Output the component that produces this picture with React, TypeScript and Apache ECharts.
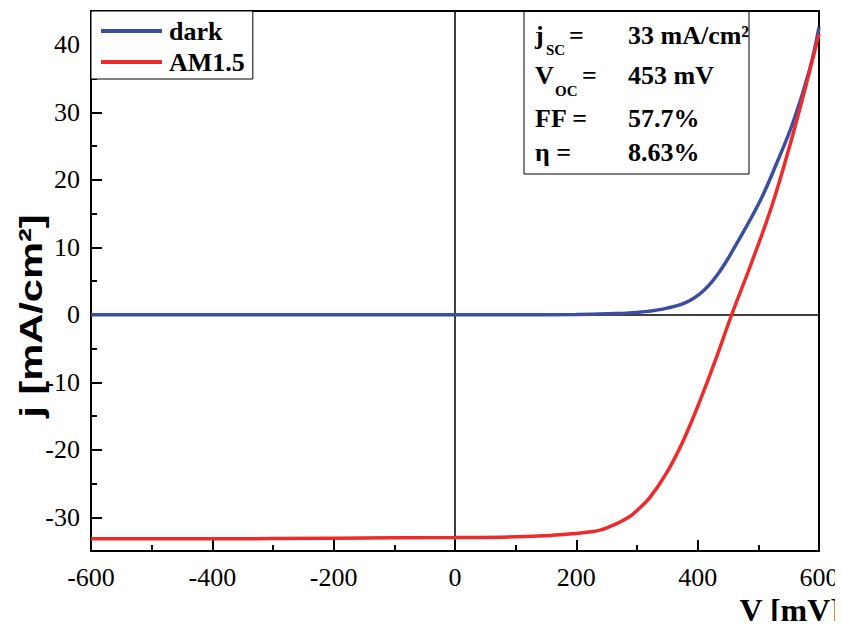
import React, { useEffect, useRef } from "react";
import * as echarts from "echarts";

// ---- data ----
const V_DARK = [-600, -400, -200, 0, 100, 200, 250, 300, 340, 380, 410, 437, 464, 503, 530, 558, 585, 600];
const J_DARK = [0, 0, 0, 0, 0, 0.05, 0.15, 0.35, 0.8, 1.8, 3.6, 6.5, 10.5, 16.9, 22.4, 28.7, 36.5, 42.6];

const V_AM = [-600, -400, -200, 0, 100, 157, 200, 220, 239, 255, 270, 288, 300, 321, 349, 376, 404, 431, 456, 490, 525, 563, 600];
const J_AM = [-33.2, -33.2, -33.1, -33.0, -32.9, -32.7, -32.4, -32.2, -31.9, -31.4, -30.8, -29.9, -29.0, -27.1, -23.4, -18.7, -12.7, -6.3, 0, 8, 16.9, 28.7, 41.6];

const SERIES_NAMES = ["dark", "AM1.5"];
const X_MIN = -600;
const X_MAX = 600;
const X_STEP = 200;
const Y_MIN = -35;
const Y_MAX = 45;
const Y_MAJOR = 10;
const Y_MINOR = 5;

const INFO_VALUES = ["33 mA/cm²", "453 mV", "57.7%", "8.63%"];

const X_TITLE = "V [mV]";
const Y_TITLE = "j [mA/cm²]";

const SERIF = "Liberation Serif";
const SANS = "Liberation Sans";

export default function App() {
  const ref = useRef<HTMLDivElement>(null);

  useEffect(() => {
    if (!ref.current) return;
    const chart = echarts.init(ref.current, undefined, { renderer: "svg" });

    const darkData = V_DARK.map((v, i) => [v, J_DARK[i]]);
    const amData = V_AM.map((v, i) => [v, J_AM[i]]);

    const gTop = 11;
    const gBottom = 78;
    const gH = 629 - gTop - gBottom;
    const pxPerUnit = gH / (Y_MAX - Y_MIN);
    const majMin = Math.ceil(Y_MIN / Y_MAJOR) * Y_MAJOR;
    const majMax = Math.floor(Y_MAX / Y_MAJOR) * Y_MAJOR;

    const txt = (
      text: string,
      x: number,
      y: number,
      size: number,
      extra: any = {}
    ) => ({
      type: "text",
      x,
      y,
      silent: true,
      z: 20,
      style: {
        text,
        fontSize: size,
        fontWeight: "bold",
        fontFamily: SERIF,
        fill: "#000",
        align: "left",
        verticalAlign: "middle",
        ...extra,
      },
    });

    const rowY = [35, 75, 118, 152];

    const option: any = {
      animation: false,
      backgroundColor: "#fff",
      grid: [
        {
          left: 91,
          right: 24,
          top: gTop,
          bottom: gBottom,
          show: true,
          borderColor: "#000",
          borderWidth: 2,
          backgroundColor: "transparent",
        },
        {
          left: 91,
          right: 24,
          top: gTop + (Y_MAX - majMax) * pxPerUnit,
          bottom: gBottom + (majMin - Y_MIN) * pxPerUnit,
          show: false,
        },
      ],
      xAxis: [
        {
          type: "value",
          gridIndex: 0,
          min: X_MIN,
          max: X_MAX,
          interval: X_STEP,
          axisLine: { show: false, onZero: false },
          splitLine: { show: false },
          axisTick: {
            show: true,
            inside: true,
            length: 11,
            lineStyle: { color: "#000", width: 2 },
          },
          minorTick: {
            show: true,
            splitNumber: 2,
            length: 6,
            lineStyle: { color: "#000", width: 2 },
          },
          axisLabel: {
            color: "#000",
            fontFamily: SERIF,
            fontSize: 26,
            margin: 13,
          },
        },
        {
          type: "value",
          gridIndex: 1,
          min: X_MIN,
          max: X_MAX,
          show: false,
          axisLine: { onZero: false },
        },
      ],
      yAxis: [
        {
          type: "value",
          gridIndex: 0,
          min: Y_MIN,
          max: Y_MAX,
          interval: Y_MINOR,
          axisLine: { show: false, onZero: false },
          splitLine: { show: false },
          axisTick: {
            show: true,
            inside: true,
            length: 6,
            lineStyle: { color: "#000", width: 2 },
          },
          axisLabel: {
            color: "#000",
            fontFamily: SERIF,
            fontSize: 26,
            margin: 11,
            formatter: (v: number) => (v % Y_MAJOR === 0 ? String(v) : ""),
          },
        },
        {
          type: "value",
          gridIndex: 1,
          min: majMin,
          max: majMax,
          interval: Y_MAJOR,
          axisLine: { show: false, onZero: false },
          splitLine: { show: false },
          axisLabel: { show: false },
          axisTick: {
            show: true,
            inside: true,
            length: 11,
            lineStyle: { color: "#000", width: 2 },
          },
        },
      ],
      legend: {
        orient: "vertical",
        left: 91,
        top: 11,
        backgroundColor: "#fff",
        borderColor: "#000",
        borderWidth: 1,
        borderRadius: 0,
        padding: [6, 8, 3, 10],
        itemGap: 3,
        itemWidth: 61,
        itemHeight: 4,
        icon: "rect",
        data: SERIES_NAMES,
        textStyle: {
          fontFamily: SERIF,
          fontWeight: "bold",
          fontSize: 26,
          color: "#000",
          lineHeight: 28,
          padding: [0, 0, 0, 2],
        },
        z: 10,
      },
      series: [
        {
          name: SERIES_NAMES[0],
          type: "line",
          xAxisIndex: 0,
          yAxisIndex: 0,
          data: darkData,
          showSymbol: false,
          smooth: 0.4,
          color: "#3a4ea2",
          lineStyle: { color: "#3a4ea2", width: 3.5 },
          itemStyle: { color: "#3a4ea2" },
          z: 3,
        },
        {
          name: SERIES_NAMES[1],
          type: "line",
          xAxisIndex: 0,
          yAxisIndex: 0,
          data: amData,
          showSymbol: false,
          smooth: 0.4,
          color: "#ee2a2a",
          lineStyle: { color: "#ee2a2a", width: 3.5 },
          itemStyle: { color: "#ee2a2a" },
          z: 4,
          markLine: {
            silent: true,
            symbol: ["none", "none"],
            label: { show: false },
            lineStyle: { color: "#000", width: 1.5, type: "solid" },
            data: [{ xAxis: 0 }, { yAxis: 0 }],
            z: 2,
          },
        },
      ],
      graphic: [
        {
          type: "rect",
          silent: true,
          z: 15,
          shape: { x: 524, y: 11.5, width: 225, height: 162.5 },
          style: { fill: "none", stroke: "#000", lineWidth: 1 },
        },
        // row 1
        txt("j", 535, rowY[0], 26),
        txt("SC", 546, rowY[0] + 15, 15),
        txt("=", 569, rowY[0], 26),
        // row 2
        txt("V", 535, rowY[1], 26),
        txt("OC", 555, rowY[1] + 16, 15),
        txt("=", 582, rowY[1], 26),
        // row 3
        txt("FF =", 535, rowY[2], 26),
        // row 4
        txt("η =", 535, rowY[3], 26),
        // values
        ...INFO_VALUES.map((t, i) => txt(t, 628, rowY[i], 26)),
        // axis titles
        txt(X_TITLE, 841, 610, 32, { align: "right" }),
        {
          type: "text",
          x: 31,
          y: 316,
          rotation: Math.PI / 2,
          scaleX: 1.3,
          silent: true,
          z: 20,
          style: {
            text: Y_TITLE,
            fontSize: 32,
            fontWeight: "bold",
            fontFamily: SANS,
            fill: "#000",
            align: "center",
            verticalAlign: "middle",
          },
        },
      ],
    };

    chart.setOption(option);
    return () => chart.dispose();
  }, []);

  return <div ref={ref} style={{ width: 843, height: 629, margin: -8 }} />;
}
